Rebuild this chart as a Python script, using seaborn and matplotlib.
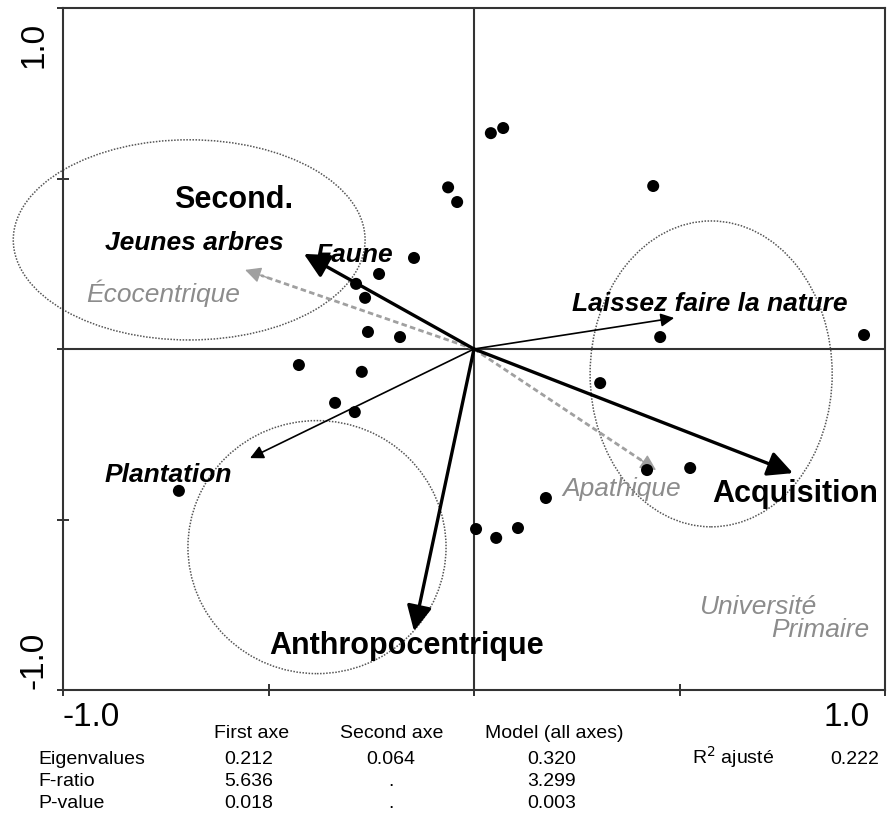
import pandas as pd
import seaborn as sns
import matplotlib.pyplot as plt
from matplotlib.patches import Ellipse

# site scores (axis 1, axis 2)
site_x = [0.041, 0.071, -0.063, -0.041, 0.436, -0.146, -0.231, -0.287, -0.265,
          -0.258, -0.180, 0.453, 0.949, -0.426, -0.273, -0.338, -0.290, -0.718,
          0.307, 0.421, 0.526, 0.175, 0.005, 0.054, 0.107]
site_y = [0.633, 0.648, 0.474, 0.431, 0.478, 0.267, 0.220, 0.191, 0.150,
          0.050, 0.035, 0.035, 0.041, -0.047, -0.067, -0.158, -0.185, -0.416,
          -0.100, -0.355, -0.349, -0.437, -0.528, -0.554, -0.525]

# explanatory variables (black arrows)
var_names = ['Faune', 'Laissez faire la nature', 'Acquisition', 'Anthropocentrique', 'Plantation']
var_x = [-0.414, 0.487, 0.776, -0.146, -0.545]
var_y = [0.279, 0.091, -0.364, -0.827, -0.320]
var_thick = [True, False, True, True, False]

# supplementary variables (grey dashed arrows)
sup_names = ['Écocentrique', 'Apathique']
sup_x = [-0.557, 0.443]
sup_y = [0.232, -0.355]

# group ellipses
grp_cx = [-0.693, 0.577, -0.382]
grp_cy = [0.320, -0.073, -0.581]
grp_w = [0.856, 0.589, 0.628]
grp_h = [0.587, 0.897, 0.742]

# summary table
col_heads = ['First axe', 'Second axe', 'Model (all axes)']
row_names = ['Eigenvalues', 'F-ratio', 'P-value']
first_axe = ['0.212', '5.636', '0.018']
second_axe = ['0.064', '.', '.']
model_all = ['0.320', '3.299', '0.003']
r2_adj = '0.222'

sns.set_style('ticks')
plt.rcParams['font.family'] = ['Liberation Sans', 'DejaVu Sans']
plt.rcParams['text.color'] = 'black'

W, H = 891, 819
fig = plt.figure(figsize=(W / 100, H / 100), dpi=100)
ax = fig.add_axes([63 / W, 1 - 690 / H, (885 - 63) / W, (690 - 8) / H])

df = pd.DataFrame({'x': site_x, 'y': site_y})
sns.scatterplot(data=df, x='x', y='y', ax=ax, color='black', s=75, edgecolor='none', zorder=4)

ax.axhline(0, color='#333333', lw=1.5, zorder=1)
ax.axvline(0, color='#333333', lw=1.5, zorder=1)

for cx, cy, w, h in zip(grp_cx, grp_cy, grp_w, grp_h):
    ax.add_patch(Ellipse((cx, cy), w, h, fill=False, ls=(0, (1, 1)), lw=1.1,
                         ec='#555555', zorder=2, clip_on=False))

for x, y, thick in zip(var_x, var_y, var_thick):
    ax.annotate('', xy=(x, y), xytext=(0, 0),
                arrowprops=dict(arrowstyle='-|>', color='black',
                                lw=2.4 if thick else 1.2,
                                mutation_scale=38 if thick else 20,
                                shrinkA=0, shrinkB=0), zorder=5)

for x, y in zip(sup_x, sup_y):
    ax.plot([0, x * 0.93], [0, y * 0.93], ls=(0, (2, 1.2)), color='#a0a0a0', lw=2, zorder=3)
    ax.annotate('', xy=(x, y), xytext=(x * 0.9, y * 0.9),
                arrowprops=dict(arrowstyle='-|>', color='#a0a0a0', lw=1,
                                mutation_scale=24, shrinkA=0, shrinkB=0), zorder=3)

big = dict(fontsize=22, fontweight='bold', color='black', ha='center', va='center', zorder=6)
mid = dict(fontsize=19, fontweight='bold', style='italic', color='black',
           ha='center', va='center', zorder=6)
grey = dict(fontsize=19, style='italic', color='#8c8c8c', ha='center', va='center', zorder=6)

ax.text(-0.584, 0.437, 'Second.', **big)
ax.text(0.781, -0.425, 'Acquisition', **big)
ax.text(-0.163, -0.871, 'Anthropocentrique', **big)
ax.text(-0.681, 0.311, 'Jeunes arbres', **mid)
ax.text(-0.292, 0.276, 'Faune', **mid)
ax.text(0.574, 0.132, 'Laissez faire la nature', **mid)
ax.text(-0.745, -0.370, 'Plantation', **mid)
ax.text(-0.757, 0.164, 'Écocentrique', **grey)
ax.text(0.360, -0.411, 'Apathique', **grey)
ax.text(0.689, -0.757, 'Université', **grey)
ax.text(0.842, -0.824, 'Primaire', **grey)

ax.set_xlim(-1, 1)
ax.set_ylim(-1, 1)
ax.set_xticks([-1, -0.5, 0, 0.5, 1])
ax.set_yticks([-1, -0.5, 0, 0.5, 1])
ax.set_xticklabels([])
ax.set_yticklabels([])
ax.set_xlabel('')
ax.set_ylabel('')
ax.tick_params(direction='inout', length=9, width=1.3, colors='#222222')
for sp in ax.spines.values():
    sp.set_linewidth(1.5)
    sp.set_color('#333333')

# axis end labels
fig.text(62 / W, 1 - 717 / H, '-1.0', fontsize=24, ha='left', va='center')
fig.text(870 / W, 1 - 717 / H, '1.0', fontsize=24, ha='right', va='center')
fig.text(34 / W, 1 - 45 / H, '1.0', fontsize=24, rotation=90, ha='center', va='center')
fig.text(34 / W, 1 - 660 / H, '-1.0', fontsize=24, rotation=90, ha='center', va='center')

# table under the plot
tfont = dict(fontsize=14, color='black')
head_x = [252, 392, 554]
val_x = [249, 391, 552]
row_y = [760, 782, 804]
for hx, txt in zip(head_x, col_heads):
    fig.text(hx / W, 1 - 733 / H, txt, ha='center', va='center', **tfont)
for i, name in enumerate(row_names):
    yy = 1 - row_y[i] / H
    fig.text(38 / W, yy, name, ha='left', va='center', **tfont)
    for vx, col in zip(val_x, [first_axe, second_axe, model_all]):
        fig.text(vx / W, yy, col[i], ha='center', va='center', **tfont)
fig.text(733 / W, 1 - 757 / H, 'R$^2$ ajusté', ha='center', va='center', **tfont)
fig.text(855 / W, 1 - 760 / H, r2_adj, ha='center', va='center', **tfont)

fig.savefig('out.png', dpi=100)
